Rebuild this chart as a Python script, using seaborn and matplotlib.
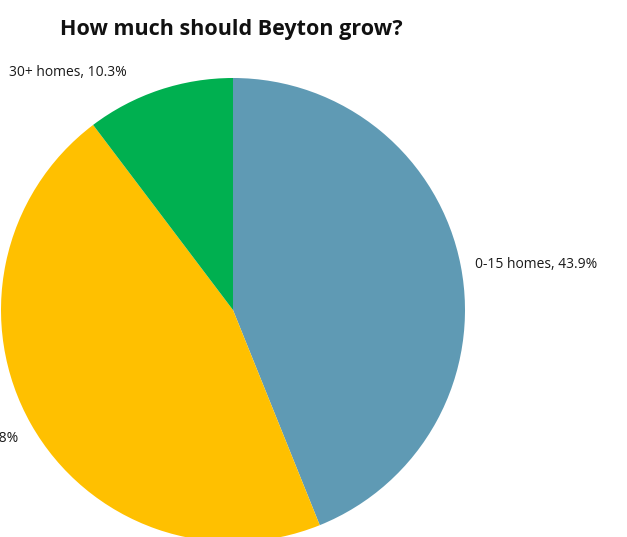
"""Pie chart: how much should Beyton grow?"""
import matplotlib
matplotlib.use("Agg")
import matplotlib.pyplot as plt
import seaborn as sns

categories = ["0-15 homes", "15-30 homes", "30+ homes"]
shares = [43.9, 45.8, 10.3]
colors = ["#5F9AB4", "#FFC000", "#00B050"]
title = "How much should Beyton grow?"

sns.set_theme(style="white")
plt.rcParams["font.family"] = ["Open Sans", "DejaVu Sans"]

W, H = 627, 537
fig = plt.figure(figsize=(W / 100, H / 100), dpi=100)
ax = fig.add_axes([0, 0, 1, 1])

labels = [f"{c}, {s}%" for c, s in zip(categories, shares)]
wedges, texts = ax.pie(
    shares,
    labels=labels,
    colors=colors,
    startangle=90,
    counterclock=False,
    center=(233, 227),
    radius=232,
    labeldistance=1.05,
    textprops={"fontsize": 10, "color": "#1a1a1a"},
    wedgeprops={"linewidth": 0},
)

# nudge labels to where the original chart put them
texts[0].set_position((475, 272))
texts[0].set_ha("left")
texts[1].set_position((18, 99))
texts[1].set_ha("right")
texts[2].set_position((127, 465))
texts[2].set_ha("right")

ax.text(231, 508, title, ha="center", va="center", fontsize=15.5,
        fontweight="bold", color="#111111")

ax.set_xlim(0, W)
ax.set_ylim(0, H)
ax.set_aspect("equal")
ax.axis("off")

fig.savefig("out.png", dpi=100)
